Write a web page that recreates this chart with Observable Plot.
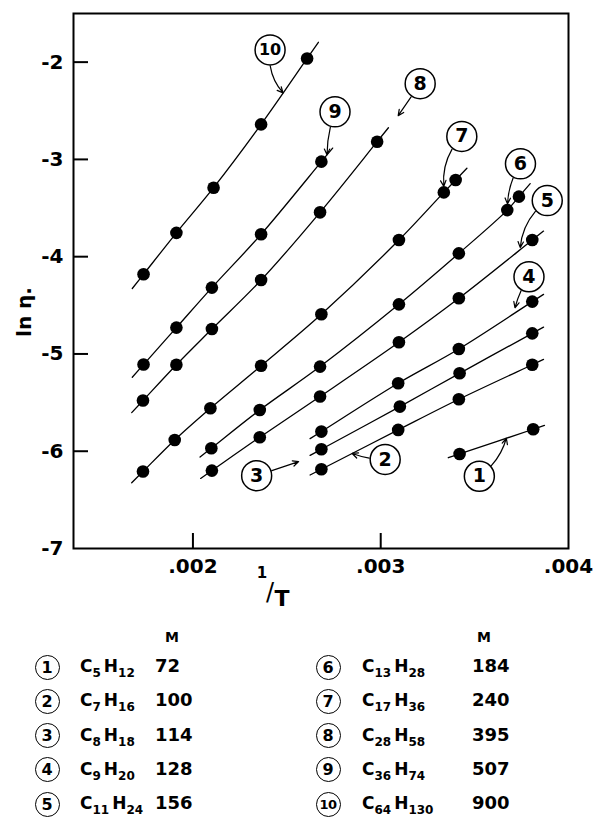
<!DOCTYPE html>
<html>
<head>
<meta charset="utf-8">
<script src="https://cdn.jsdelivr.net/npm/d3@7"></script>
<script src="https://cdn.jsdelivr.net/npm/@observablehq/plot@0.6"></script>
<style>
  body { margin: 0; background: #fff; font-family: "DejaVu Sans", sans-serif; color: #000; }
  #chart { width: 595px; height: 625px; }
  #legend { position: relative; width: 595px; height: 194px; }
  #legend div { position: absolute; white-space: nowrap; }
  .circ { width: 25px; height: 25px; border: 1.6px solid #000; border-radius: 50%;
          display: flex; align-items: center; justify-content: center;
          font-size: 16px; font-weight: bold; box-sizing: border-box; }
  .circ.two { font-size: 13px; letter-spacing: -0.5px; }
  .form { font-size: 17px; font-weight: bold; line-height: 20px; height: 20px; }
  .form sub { font-size: 12px; vertical-align: baseline; position: relative; top: 5px; margin-right: 3px; }
  .val { font-size: 18px; font-weight: bold; line-height: 20px; height: 20px; }
  .mh { font-size: 14px; font-weight: bold; line-height: 16px; }
</style>
</head>
<body>
<div id="chart"></div>
<div id="legend"></div>
<script>
// ---- data ----
const seriesIds = [1, 2, 3, 4, 5, 6, 7, 8, 9, 10];

const invT_1  = [0.003420, 0.003812];
const lnEta_1 = [-6.028, -5.774];

const invT_2  = [0.002684, 0.003093, 0.003416, 0.003807];
const lnEta_2 = [-6.185, -5.781, -5.466, -5.111];

const invT_3  = [0.002684, 0.003102, 0.003420, 0.003807];
const lnEta_3 = [-5.980, -5.541, -5.199, -4.788];

const invT_4  = [0.002684, 0.003093, 0.003416, 0.003807];
const lnEta_4 = [-5.798, -5.301, -4.949, -4.462];

const invT_5  = [0.002101, 0.002356, 0.002677, 0.003097, 0.003416, 0.003807];
const lnEta_5 = [-6.199, -5.856, -5.438, -4.880, -4.428, -3.829];

const invT_6  = [0.002098, 0.002356, 0.002677, 0.003097, 0.003416, 0.003674, 0.003736];
const lnEta_6 = [-5.969, -5.576, -5.130, -4.490, -3.966, -3.521, -3.383];

const invT_7  = [0.001734, 0.001903, 0.002093, 0.002363, 0.002684, 0.003097, 0.003336, 0.003399];
const lnEta_7 = [-6.209, -5.884, -5.558, -5.122, -4.592, -3.829, -3.339, -3.212];

const invT_8  = [0.001734, 0.001912, 0.002101, 0.002363, 0.002677, 0.002981];
const lnEta_8 = [-5.479, -5.111, -4.744, -4.240, -3.544, -2.818];

const invT_9  = [0.001737, 0.001912, 0.002101, 0.002363, 0.002684];
const lnEta_9 = [-5.109, -4.729, -4.318, -3.770, -3.023];

const invT_10  = [0.001737, 0.001912, 0.002110, 0.002363, 0.002608];
const lnEta_10 = [-4.181, -3.755, -3.291, -2.640, -1.962];

const xTicks = [0.002, 0.003, 0.004];
const xTickLabels = [".002", ".003", ".004"];
const yTicks = [-2, -3, -4, -5, -6, -7];
const yTickLabels = ["-2", "-3", "-4", "-5", "-6", "-7"];

const carbons   = [5, 7, 8, 9, 11, 13, 17, 28, 36, 64];
const hydrogens = [12, 16, 18, 20, 24, 28, 36, 58, 74, 130];
const molarMass = [72, 100, 114, 128, 156, 184, 240, 395, 507, 900];

// ---- layout ----
const invTs  = [invT_1, invT_2, invT_3, invT_4, invT_5, invT_6, invT_7, invT_8, invT_9, invT_10];
const lnEtas = [lnEta_1, lnEta_2, lnEta_3, lnEta_4, lnEta_5, lnEta_6, lnEta_7, lnEta_8, lnEta_9, lnEta_10];

const W = 595, H = 625, ML = 73, MR = 27, MT = 13, MB = 77;
const xDomain = [0.001364, 0.004], yDomain = [-7, -1.5];
const sx = Plot.scale({x: {domain: xDomain, range: [ML, W - MR]}});
const sy = Plot.scale({y: {domain: yDomain, range: [H - MB, MT]}});
const EXT = 0.00006;

const points = [], curves = [];
seriesIds.forEach((id, i) => {
  const X = invTs[i], Y = lnEtas[i], n = X.length;
  const s0 = (Y[1] - Y[0]) / (X[1] - X[0]);
  const s1 = (Y[n - 1] - Y[n - 2]) / (X[n - 1] - X[n - 2]);
  curves.push({id, x: X[0] - EXT, y: Y[0] - s0 * EXT});
  X.forEach((x, j) => { points.push({id, x, y: Y[j]}); curves.push({id, x, y: Y[j]}); });
  curves.push({id, x: X[n - 1] + EXT, y: Y[n - 1] + s1 * EXT});
});

function yOn(id, x) {
  const pts = curves.filter(d => d.id === id);
  let k = pts.findIndex(d => d.x >= x);
  if (k === -1) k = pts.length - 1;
  if (k === 0) k = 1;
  const a = pts[k - 1], b = pts[k];
  return a.y + (b.y - a.y) * (x - a.x) / (b.x - a.x);
}

const callouts = [
  {id: 10, at: 0.002480, dx: -13, dy: -43, bend: -25, gap: 0},
  {id: 9,  at: 0.002714, dx: 8,   dy: -43, bend: -10, gap: 0},
  {id: 8,  at: 0.003093, dx: 22,  dy: -32, bend: 0,   gap: 0},
  {id: 7,  at: 0.003336, dx: 18,  dy: -56, bend: -25, gap: 6},
  {id: 6,  at: 0.003675, dx: 13,  dy: -46, bend: -15, gap: 6},
  {id: 5,  at: 0.003743, dx: 27,  dy: -49, bend: -25, gap: 2},
  {id: 4,  at: 0.003715, dx: 14,  dy: -36, bend: -10, gap: 5},
  {id: 3,  at: 0.002563, dx: -42, dy: 14,  bend: 0,   gap: 0},
  {id: 2,  at: 0.002848, dx: 33,  dy: 6,   bend: 10,  gap: 0},
  {id: 1,  at: 0.003669, dx: -27, dy: 38,  bend: -20, gap: 0}
].map(c => {
  const ly = sy.apply(yOn(c.id, c.at));
  const tpx = sx.apply(c.at), tpy = ly - c.gap;
  return {...c, tx: c.at, ty: sy.invert(tpy), cx: sx.invert(tpx + c.dx), cy: sy.invert(ly + c.dy)};
});

const R = 15;
const plot = Plot.plot({
  width: W, height: H,
  marginLeft: ML, marginRight: MR, marginTop: MT, marginBottom: MB,
  style: {fontFamily: "DejaVu Sans", fontSize: "20px", background: "#fff", color: "#000"},
  x: {domain: xDomain},
  y: {domain: yDomain},
  marks: [
    Plot.ruleY(yTicks.filter(t => t > yDomain[0]), {x1: xDomain[0], x2: sx.invert(ML + 15), strokeWidth: 2}),
    Plot.ruleX(xTicks.filter(t => t < xDomain[1]), {y1: yDomain[0], y2: sy.invert(H - MB - 15), strokeWidth: 2}),
    Plot.axisX(xTicks, {tickSize: 0, tickPadding: 10, label: null, fontWeight: "bold",
      tickFormat: d => xTickLabels[xTicks.indexOf(d)]}),
    Plot.axisY(yTicks, {tickSize: 0, tickPadding: 10, label: null, fontWeight: "bold",
      tickFormat: d => yTickLabels[yTicks.indexOf(d)]}),
    Plot.line(curves, {x: "x", y: "y", z: "id", curve: "catmull-rom", stroke: "#000", strokeWidth: 1.3}),
    Plot.dot(points, {x: "x", y: "y", r: 6.3, fill: "#000"}),
    ...callouts.map(c => Plot.arrow([c], {x1: "cx", y1: "cy", x2: "tx", y2: "ty", bend: c.bend,
      insetStart: R + 1, headLength: 8, headAngle: 50, stroke: "#000", strokeWidth: 1.2})),
    Plot.dot(callouts, {x: "cx", y: "cy", r: R, fill: "#fff", stroke: "#000", strokeWidth: 1.5}),
    Plot.text(callouts, {x: "cx", y: "cy", text: d => String(d.id), fontWeight: "bold",
      fontSize: d => d.id === 10 ? 16 : 19}),
    Plot.frame({stroke: "#000", strokeWidth: 2})
  ]
});
document.getElementById("chart").appendChild(plot);

// axis titles
const svg = d3.select(plot);
svg.append("text")
  .attr("transform", "translate(24,312) rotate(-90)")
  .attr("text-anchor", "middle").attr("dominant-baseline", "central")
  .attr("font-size", 20).attr("font-weight", "bold").attr("fill", "#000")
  .text("ln η.");
const xt = svg.append("g").attr("fill", "#000").attr("font-weight", "bold");
xt.append("text").attr("x", 262).attr("y", 578).attr("text-anchor", "middle").attr("font-size", 15).text("1");
xt.append("text").attr("x", 270).attr("y", 600).attr("text-anchor", "middle").attr("font-size", 24).attr("font-weight", "normal").text("/");
xt.append("text").attr("x", 282).attr("y", 606).attr("text-anchor", "middle").attr("font-size", 22).text("T");

// legend table
const legend = document.getElementById("legend");
const cols = [
  {circle: 47, formula: 80, value: 155, m: 171},
  {circle: 328, formula: 362, value: 472, m: 483}
];
cols.forEach(c => {
  const m = document.createElement("div");
  m.className = "mh"; m.textContent = "M";
  m.style.left = (c.m - 6) + "px"; m.style.top = "4px";
  legend.appendChild(m);
});
seriesIds.forEach((id, i) => {
  const c = cols[i < 5 ? 0 : 1];
  const yc = 42 + (i % 5) * 34.3;
  const circ = document.createElement("div");
  circ.className = String(id).length > 1 ? "circ two" : "circ";
  circ.textContent = id;
  circ.style.left = (c.circle - 12.5) + "px"; circ.style.top = (yc - 12.5) + "px";
  legend.appendChild(circ);
  const f = document.createElement("div");
  f.className = "form";
  f.innerHTML = `C<sub>${carbons[i]}</sub>H<sub>${hydrogens[i]}</sub>`;
  f.style.left = c.formula + "px"; f.style.top = (yc - 11) + "px";
  legend.appendChild(f);
  const v = document.createElement("div");
  v.className = "val"; v.textContent = molarMass[i];
  v.style.left = c.value + "px"; v.style.top = (yc - 11) + "px";
  legend.appendChild(v);
});
</script>
</body>
</html>
